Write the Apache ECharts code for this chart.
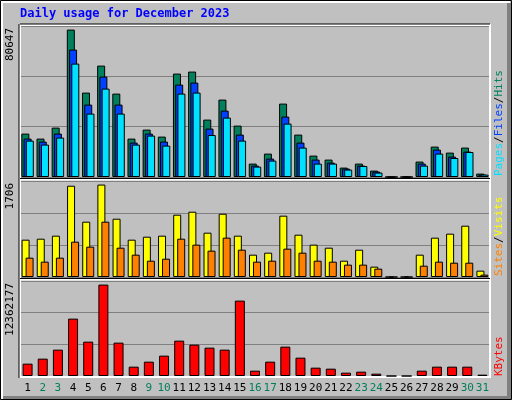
<!DOCTYPE html>
<html>
<head>
<meta charset="utf-8">
<script src="https://cdn.jsdelivr.net/npm/echarts@6/dist/echarts.min.js"></script>
<style>html,body{margin:0;padding:0;background:#fff}#chart{width:512px;height:400px}</style>
</head>
<body>
<div id="chart"></div>
<script>
// days of the month and weekend days (drawn green)
const days = ['1','2','3','4','5','6','7','8','9','10','11','12','13','14','15','16','17','18','19','20','21','22','23','24','25','26','27','28','29','30','31'];
const weekends = ['2','3','9','10','16','17','23','24','30','31'];

const hits = [23740,21010,27030,80647,46180,60950,45630,21010,25930,22100,56570,57670,31400,42350,28120,7330,12800,40160,23200,11710,9520,5140,7330,3500,0,0,8430,16630,13350,16090,1860];
const files = [21010,19370,23740,69700,39610,54930,39610,18820,23740,19370,50550,51650,26480,36330,23200,6240,10070,33050,18820,9520,7880,4600,6240,2950,0,0,7330,14990,11160,13900,1310];
const pages = [19910,17730,21560,62040,34690,48360,34690,17730,22650,17180,45630,46180,22980,32500,19910,5690,8970,29210,16090,7330,7330,4050,6020,2410,0,0,6240,12800,10390,13680,1310];
const visits = [689,707,763,1685,1021,1706,1076,689,744,763,1150,1205,818,1168,763,412,449,1132,781,597,541,301,504,191,0,0,412,726,800,947,117];
const sites = [357,283,357,652,560,1021,541,412,301,338,707,597,486,726,504,283,301,523,449,301,283,228,228,154,0,0,209,283,264,264,43];
const kbytes = [1669000,2346000,3564000,7760000,4647000,12362177,4512000,1263000,1940000,2752000,4782000,4241000,3835000,3564000,10196000,722000,1940000,3970000,2481000,1128000,993000,451000,587000,316000,0,0,722000,1263000,1263000,1263000,180000];

const maxLabels = ['80647', '1706', '12362177'];
const axisMax = [82615, 1772, 12849000];

const chart = echarts.init(document.getElementById('chart'));
const mono = 'DejaVu Sans Mono';
const L = 20, W = 470;
const panels = [{top: 26, h: 151}, {top: 181, h: 96}, {top: 281, h: 95}];

function bar(name, data, idx, color, width, gap) {
    return {
        name, type: 'bar', data, xAxisIndex: idx, yAxisIndex: idx,
        barWidth: width, barGap: gap, animation: false,
        itemStyle: {color, borderColor: '#000', borderWidth: 1}
    };
}

const option = {
    backgroundColor: '#c0c0c0',
    animation: false,
    textStyle: {fontFamily: mono},
    grid: panels.map(p => ({left: L, top: p.top, width: W, height: p.h, show: false})),
    xAxis: panels.map((p, i) => ({
        type: 'category', gridIndex: i, data: days,
        axisLine: {show: false}, axisTick: {show: false},
        axisLabel: i === 2 ? {
            show: true, fontFamily: mono, fontSize: 11, margin: 7, interval: 0,
            color: v => weekends.includes(v) ? '#00805c' : '#000'
        } : {show: false}
    })),
    yAxis: panels.map((p, i) => ({
        type: 'value', gridIndex: i, min: 0, max: axisMax[i], interval: axisMax[i] / 3,
        axisLabel: {show: false}, axisLine: {show: false}, axisTick: {show: false},
        splitLine: {lineStyle: {color: '#808080', width: 1}}
    })),
    series: [
        bar('Hits', hits, 0, '#00805c', 8, '-72%'),
        bar('Files', files, 0, '#0040ff', 8, '-72%'),
        bar('Pages', pages, 0, '#00e0ff', 8, '-72%'),
        bar('Visits', visits, 1, '#ffff00', 8, '-50%'),
        bar('Sites', sites, 1, '#ff8000', 8, '-50%'),
        bar('KBytes', kbytes, 2, '#ff0000', 10, '0%')
    ],
    graphic: [
        // outer frame
        {type: 'rect', shape: {x: 0.5, y: 0.5, width: 511, height: 399}, style: {fill: null, stroke: '#000', lineWidth: 1}, z: 0},
        {type: 'rect', shape: {x: 2, y: 2, width: 507, height: 396}, style: {fill: null, stroke: '#fff', lineWidth: 2}, z: 0},
        {type: 'rect', shape: {x: 507, y: 3, width: 4, height: 396}, style: {fill: '#808080'}, z: 0},
        {type: 'rect', shape: {x: 3, y: 396, width: 508, height: 3}, style: {fill: '#808080'}, z: 0},
        // panel frames
        {type: 'rect', shape: {x: 20, y: 25, width: 470, height: 352}, style: {fill: null, stroke: '#fff', lineWidth: 2}, z: 1},
        {type: 'line', shape: {x1: 20, y1: 179.5, x2: 490, y2: 179.5}, style: {stroke: '#fff', lineWidth: 2}, z: 1},
        {type: 'line', shape: {x1: 20, y1: 279.5, x2: 490, y2: 279.5}, style: {stroke: '#fff', lineWidth: 2}, z: 1},
        {type: 'line', shape: {x1: 20, y1: 24, x2: 490, y2: 24}, style: {stroke: '#000', lineWidth: 1}, z: 1},
        {type: 'line', shape: {x1: 19, y1: 24, x2: 19, y2: 378}, style: {stroke: '#000', lineWidth: 1}, z: 1},
        {type: 'line', shape: {x1: 20, y1: 178.5, x2: 490, y2: 178.5}, style: {stroke: '#000', lineWidth: 1}, z: 1},
        {type: 'line', shape: {x1: 20, y1: 278.5, x2: 490, y2: 278.5}, style: {stroke: '#000', lineWidth: 1}, z: 1},
        // title
        {type: 'text', left: 20, top: 8, style: {text: 'Daily usage for December 2023', fill: '#0000ff', font: 'bold 12px "DejaVu Sans Mono"'}},
        // max labels on the left
        ...panels.map((p, i) => ({
            type: 'text', x: 10, y: p.top + 2, rotation: Math.PI / 2,
            style: {text: maxLabels[i], fill: '#000', font: '11px "DejaVu Sans Mono"', align: 'right', verticalAlign: 'middle'}
        })),
        // legends on the right
        {type: 'text', x: 499, y: 176, rotation: Math.PI / 2,
            style: {text: '{p|Pages}{s|/}{f|Files}{s|/}{h|Hits}', verticalAlign: 'middle', align: 'left', font: '11px "DejaVu Sans Mono"',
                rich: {p: {fill: '#00e0ff', font: '11px "DejaVu Sans Mono"'}, f: {fill: '#0040ff', font: '11px "DejaVu Sans Mono"'},
                    h: {fill: '#00805c', font: '11px "DejaVu Sans Mono"'}, s: {fill: '#000', font: '11px "DejaVu Sans Mono"'}}}},
        {type: 'text', x: 499, y: 276, rotation: Math.PI / 2,
            style: {text: '{a|Sites}{s|/}{b|Visits}', verticalAlign: 'middle', align: 'left',
                rich: {a: {fill: '#ff8000', font: '11px "DejaVu Sans Mono"'}, b: {fill: '#ffff00', font: '11px "DejaVu Sans Mono"'},
                    s: {fill: '#000', font: '11px "DejaVu Sans Mono"'}}}},
        {type: 'text', x: 499, y: 376, rotation: Math.PI / 2,
            style: {text: 'KBytes', fill: '#ff0000', font: '11px "DejaVu Sans Mono"', verticalAlign: 'middle', align: 'left'}}
    ]
};
chart.setOption(option);
</script>
</body>
</html>
